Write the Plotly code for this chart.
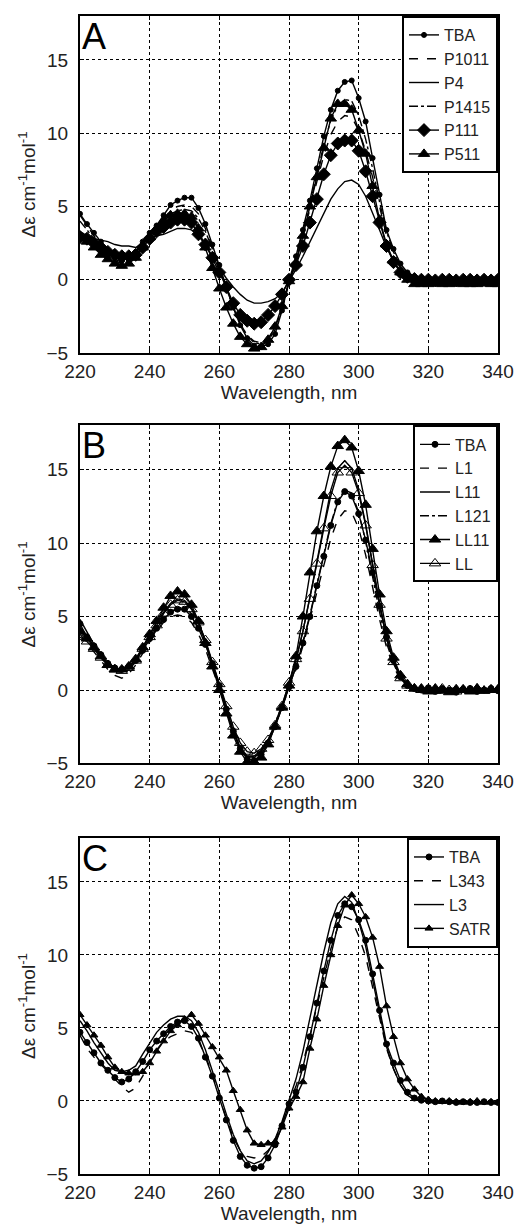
import plotly.graph_objects as go

wavelength = list(range(220, 341, 2))

A_TBA = [4.5, 3.8, 3.2, 2.6, 2.0, 1.5, 1.3, 1.5, 1.9, 2.6, 3.2, 3.7, 4.4, 5.1, 5.4, 5.6, 5.6, 4.9, 3.8, 2.4,
         1.0, -0.5, -1.9, -3.1, -4.0, -4.5, -4.6, -4.4, -3.7, -2.1, -0.1, 1.6, 3.4, 5.4, 7.6, 9.8, 11.6, 12.9, 13.5, 13.6,
         12.4, 10.8, 8.3, 5.8, 3.4, 2.1, 1.1, 0.5, 0.2, 0.1,
         0.0, 0.05, 0.0, 0.05, 0.0, 0.0, 0.05, -0.05, 0.0, 0.0, -0.05]
A_P1011 = [4.4, 3.7, 3.0, 2.4, 1.8, 1.3, 1.1, 1.3, 1.8, 2.5, 3.1, 3.6, 4.2, 4.7, 5.0, 5.1, 5.0, 4.5, 3.5, 2.2,
           0.8, -0.6, -1.9, -3.0, -3.8, -4.2, -4.3, -4.0, -3.3, -1.9, -0.2, 1.3, 3.0, 4.8, 6.7, 8.5, 9.9, 10.8, 11.2, 11.1,
           10.2, 8.8, 7.0, 4.9, 3.0, 1.7, 0.8, 0.3, 0.1, 0.0,
           0.05, 0.0, -0.05, 0.0, 0.05, 0.0, -0.05, 0.0, 0.05, 0.0, 0.0]
A_P4 = [3.3, 3.0, 2.8, 2.7, 2.6, 2.4, 2.3, 2.3, 2.2, 2.5, 2.8, 3.0, 3.1, 3.3, 3.5, 3.5, 3.4, 3.0, 2.4, 1.6,
        0.8, 0.1, -0.5, -1.0, -1.4, -1.6, -1.6, -1.5, -1.3, -0.9, -0.1, 0.7, 1.6, 2.6, 3.6, 4.6, 5.5, 6.2, 6.7, 6.8,
        6.5, 5.7, 4.6, 3.4, 2.2, 1.3, 0.6, 0.25, 0.1, 0.05,
        0.1, 0.05, 0.1, 0.0, 0.05, 0.1, 0.0, 0.05, 0.1, 0.05, 0.0]
A_P1415 = [4.0, 3.4, 2.8, 2.3, 1.8, 1.4, 1.2, 1.4, 1.9, 2.6, 3.1, 3.6, 4.1, 4.5, 4.7, 4.8, 4.7, 4.2, 3.3, 2.1,
           0.8, -0.6, -1.9, -3.0, -3.8, -4.3, -4.4, -4.2, -3.4, -2.0, -0.2, 1.4, 3.2, 5.1, 7.2, 9.2, 10.9, 11.9, 12.3, 12.2,
           11.2, 9.6, 7.6, 5.3, 3.3, 1.9, 0.9, 0.3, 0.1, 0.0,
           -0.05, 0.0, 0.05, -0.05, 0.0, 0.0, 0.05, 0.0, -0.05, 0.0, 0.05]
A_P111 = [2.9, 2.8, 2.5, 2.2, 1.9, 1.7, 1.6, 1.6, 1.7, 2.2, 2.8, 3.3, 3.6, 3.9, 4.1, 4.1, 3.9, 3.1, 2.4, 1.5,
          0.5, -0.5, -1.6, -2.4, -2.8, -3.0, -2.9, -2.4, -1.8, -1.0, 0.0, 1.0, 2.3, 3.9, 5.5, 7.2, 8.5, 9.3, 9.5, 9.5,
          8.8, 7.4, 5.7, 3.9, 2.3, 1.2, 0.5, 0.2, 0.05, 0.0,
          0.0, -0.05, 0.0, 0.0, -0.05, 0.0, 0.0, -0.05, 0.0, -0.05, 0.0]
A_P511 = [3.0, 2.6, 2.2, 1.7, 1.4, 1.1, 0.95, 1.1, 1.5, 2.2, 2.9, 3.5, 4.0, 4.4, 4.5, 4.5, 4.3, 3.5, 2.2, 0.8,
          -0.6, -1.9, -3.0, -3.9, -4.4, -4.7, -4.6, -4.1, -3.2, -1.8, -0.1, 1.1, 3.0, 5.0, 7.0, 9.0, 11.0, 12.0, 12.0, 11.6,
          10.2, 8.6, 6.4, 4.1, 2.4, 1.3, 0.5, 0.0, -0.3, -0.3,
          -0.3, -0.25, -0.3, -0.3, -0.25, -0.3, -0.3, -0.3, -0.25, -0.3, -0.3]

B_TBA = [4.5, 3.6, 3.0, 2.4, 1.8, 1.5, 1.4, 1.6, 2.0, 2.7, 3.5, 4.2, 4.8, 5.3, 5.5, 5.5, 5.0, 4.2, 3.1, 1.8,
         0.3, -1.3, -2.8, -4.0, -4.7, -4.8, -4.4, -3.6, -2.5, -1.2, 0.2, 1.6, 3.2, 5.0, 7.1, 9.1, 11.2, 12.8, 13.5, 13.2,
         12.0, 10.2, 8.0, 5.7, 3.6, 2.0, 0.9, 0.3, 0.1, 0.0,
         0.15, -0.1, 0.1, 0.0, -0.15, 0.05, 0.1, -0.1, 0.0, 0.1, -0.05]
B_L1 = [3.8, 3.2, 2.6, 2.0, 1.4, 1.0, 0.8, 1.1, 1.7, 2.5, 3.3, 4.0, 4.6, 5.0, 5.1, 5.0, 4.6, 3.8, 2.8, 1.5,
        0.1, -1.4, -2.8, -3.9, -4.5, -4.6, -4.2, -3.5, -2.4, -1.2, 0.1, 1.4, 3.0, 4.8, 6.6, 8.5, 10.3, 11.6, 12.2, 12.1,
        11.0, 9.2, 7.0, 4.8, 2.9, 1.6, 0.7, 0.2, 0.0, -0.1,
        -0.15, 0.0, -0.1, -0.2, 0.0, -0.1, -0.05, -0.15, 0.0, -0.1, -0.05]
B_L11 = [4.8, 3.9, 3.1, 2.4, 1.8, 1.5, 1.4, 1.6, 2.1, 2.9, 3.8, 4.6, 5.3, 5.9, 6.2, 6.1, 5.6, 4.6, 3.3, 1.8,
         0.2, -1.4, -2.9, -4.0, -4.6, -4.5, -4.1, -3.4, -2.3, -1.0, 0.4, 2.0, 4.0, 6.3, 8.8, 11.3, 13.6, 15.1, 15.6, 15.1,
         13.6, 11.3, 8.6, 5.9, 3.6, 2.0, 0.9, 0.3, 0.1, 0.05,
         0.1, 0.2, 0.0, 0.1, 0.15, -0.05, 0.1, 0.0, 0.15, 0.05, 0.1]
B_L121 = [4.2, 3.5, 2.8, 2.2, 1.7, 1.3, 1.2, 1.4, 1.9, 2.6, 3.4, 4.1, 4.8, 5.3, 5.6, 5.6, 5.2, 4.4, 3.3, 1.9,
          0.4, -1.2, -2.7, -3.9, -4.5, -4.6, -4.2, -3.4, -2.3, -1.1, 0.2, 1.6, 3.3, 5.1, 7.2, 9.3, 11.3, 12.9, 13.6, 13.4,
          12.1, 10.1, 7.7, 5.3, 3.2, 1.8, 0.8, 0.3, 0.0, -0.1,
          0.0, -0.15, -0.05, 0.1, -0.1, -0.2, 0.0, -0.1, -0.15, 0.0, -0.1]
B_LL11 = [4.0, 3.5, 2.9, 2.3, 1.7, 1.4, 1.4, 1.6, 2.1, 2.9, 3.8, 4.7, 5.6, 6.4, 6.7, 6.5, 5.8, 4.7, 3.2, 1.6,
          0.0, -1.6, -3.1, -4.2, -4.9, -4.9, -4.6, -3.7, -2.5, -1.2, 0.3, 2.3, 5.0, 8.0, 10.8, 13.2, 15.2, 16.6, 17.0, 16.5,
          14.9, 12.6, 9.6, 6.5, 4.0, 2.2, 1.0, 0.4, 0.1, 0.1,
          -0.1, 0.1, -0.05, -0.15, 0.05, 0.0, -0.1, 0.1, -0.05, 0.0, 0.05]
B_LL = [3.6, 3.3, 2.8, 2.2, 1.7, 1.4, 1.3, 1.5, 2.0, 2.8, 3.6, 4.4, 5.2, 5.8, 6.1, 6.0, 5.5, 4.6, 3.4, 1.9,
        0.4, -1.1, -2.5, -3.6, -4.2, -4.3, -4.0, -3.4, -2.4, -1.1, 0.5, 2.1, 4.0, 6.2, 8.6, 11.0, 13.2, 14.8, 15.3, 14.8,
        13.4, 11.2, 8.5, 5.8, 3.5, 1.9, 0.8, 0.3, 0.1, 0.0,
        0.05, -0.05, 0.1, 0.0, -0.1, 0.05, 0.0, 0.1, -0.05, 0.05, 0.0]

C_TBA = [4.7, 4.0, 3.3, 2.6, 2.1, 1.6, 1.3, 1.5, 2.0, 2.7, 3.5, 4.1, 4.6, 5.1, 5.4, 5.5, 5.1, 4.3, 3.0, 1.7,
         0.2, -1.3, -2.7, -3.8, -4.4, -4.6, -4.5, -3.9, -3.0, -1.7, -0.2, 0.6, 2.3, 4.4, 6.7, 8.9, 11.0, 12.7, 13.5, 13.3,
         12.4, 11.0, 8.7, 6.2, 3.9, 2.6, 1.4, 0.6, 0.2, 0.05,
         0.0, -0.05, 0.0, -0.05, -0.1, -0.05, -0.1, -0.1, -0.05, -0.1, -0.1]
C_L343 = [4.5, 3.6, 3.0, 2.5, 2.0, 1.5, 1.0, 0.6, 0.9, 1.7, 2.7, 3.5, 4.1, 4.4, 4.6, 4.8, 4.7, 4.1, 3.1, 1.8,
          0.3, -1.2, -2.5, -3.4, -3.8, -3.9, -3.8, -3.4, -2.7, -1.5, -0.1, 1.0, 2.6, 4.4, 6.5, 8.5, 10.4, 11.9, 12.6, 12.4,
          11.3, 9.9, 7.8, 5.6, 3.6, 2.2, 1.1, 0.4, 0.1, 0.0,
          -0.1, -0.15, -0.1, -0.05, -0.15, -0.1, -0.2, -0.1, -0.15, -0.1, -0.15]
C_L3 = [5.5, 4.8, 4.0, 3.3, 2.6, 2.1, 2.0, 2.1, 2.4, 3.2, 4.0, 4.7, 5.2, 5.6, 5.8, 5.8, 5.5, 4.7, 3.5, 2.1,
        0.6, -0.9, -2.3, -3.4, -4.1, -4.3, -4.1, -3.5, -2.6, -1.4, 0.0, 1.5, 3.4, 5.7, 8.0, 10.2, 12.2, 13.5, 14.0, 13.6,
        12.3, 10.6, 8.3, 5.9, 3.7, 2.2, 1.1, 0.4, 0.1, 0.0,
        0.0, 0.0, -0.05, 0.0, -0.05, 0.0, -0.05, -0.05, 0.0, -0.05, -0.1]
C_SATR = [5.9, 5.2, 4.5, 3.8, 3.0, 2.3, 2.0, 1.9, 1.9, 2.0, 2.6, 3.4, 4.1, 4.8, 5.2, 5.6, 5.9, 5.3, 4.5, 3.7,
          3.0, 2.1, 0.7, -0.6, -2.0, -2.9, -3.0, -2.9, -2.8, -1.8, -0.5, 0.3, 1.3, 3.6, 5.6, 7.9, 10.0, 12.0, 13.4, 14.1,
          13.5, 12.6, 11.2, 9.2, 6.5, 4.4, 2.6, 1.5, 0.8, 0.3,
          0.1, 0.0, -0.05, 0.0, -0.05, -0.1, -0.05, 0.0, -0.1, -0.05, -0.1]

x_ticks = [220, 240, 260, 280, 300, 320, 340]
y_ticks = [-5, 0, 5, 10, 15]

FONT = "Liberation Sans, Arial, sans-serif"

# name, values, dash, marker symbol, marker size
panels = [
    ("A", [("TBA", A_TBA, "solid", "circle", 5),
           ("P1011", A_P1011, "dash", None, 0),
           ("P4", A_P4, "solid", None, 0),
           ("P1415", A_P1415, "9px,3px,3px,3px", None, 0),
           ("P111", A_P111, "solid", "diamond", 10),
           ("P511", A_P511, "solid", "triangle-up", 10)]),
    ("B", [("TBA", B_TBA, "solid", "circle", 6),
           ("L1", B_L1, "dash", None, 0),
           ("L11", B_L11, "solid", None, 0),
           ("L121", B_L121, "9px,3px,3px,3px", None, 0),
           ("LL11", B_LL11, "solid", "triangle-up", 10),
           ("LL", B_LL, "solid", "triangle-up-open", 10)]),
    ("C", [("TBA", C_TBA, "solid", "circle", 6),
           ("L343", C_L343, "dash", None, 0),
           ("L3", C_L3, "solid", None, 0),
           ("SATR", C_SATR, "solid", "triangle-up", 7)]),
]

domains = [[0.709, 1.0], [0.3545, 0.6464], [0.0, 0.2901]]

fig = go.Figure()
legend_names = ["legend", "legend2", "legend3"]
for i, (letter, series) in enumerate(panels):
    ax = "" if i == 0 else str(i + 1)
    for name, vals, dash, sym, msz in series:
        if sym:
            mode = "lines+markers"
            marker = dict(symbol=sym, size=msz, color="black",
                          line=dict(color="black", width=1))
        else:
            mode = "lines"
            marker = None
        fig.add_trace(go.Scatter(
            x=wavelength, y=vals, name=name, mode=mode,
            line=dict(color="black", width=1.4, dash=dash),
            marker=marker, xaxis="x" + ax, yaxis="y" + ax,
            legend=legend_names[i]))
    axis_common = dict(showline=True, linecolor="black", linewidth=2, mirror="ticks",
                       ticks="inside", ticklen=4, tickcolor="black",
                       showgrid=True, gridcolor="black", gridwidth=1.3, griddash="dot",
                       zeroline=False, ticklabeloverflow="allow",
                       tickfont=dict(size=19, color="#222", family=FONT))
    fig.layout["xaxis" + ax] = dict(axis_common, domain=[0, 1], anchor="y" + ax,
                                    range=[220, 340], tickvals=x_ticks,
                                    title=dict(text="Wavelength, nm", standoff=2,
                                               font=dict(size=19, color="#222", family=FONT)))
    fig.layout["yaxis" + ax] = dict(axis_common, domain=domains[i], anchor="x" + ax,
                                    range=[-5, 18], tickvals=y_ticks,
                                    ticklabelstandoff=6,
                                    title=dict(text="Δε cm<sup>-1</sup>mol<sup>-1</sup>", standoff=6,
                                               font=dict(size=19, color="#222", family=FONT)))
    fig.layout[legend_names[i]] = dict(x=1, xanchor="right", xref="paper",
                                       y=domains[i][1], yanchor="top", yref="paper",
                                       bgcolor="white", bordercolor="black", borderwidth=2,
                                       font=dict(size=16, color="#222", family=FONT),
                                       tracegroupgap=0)
    fig.add_annotation(text=letter, xref=("x" + ax) + " domain", yref=("y" + ax) + " domain",
                       x=0.0, y=1.0, xanchor="left", yanchor="top", showarrow=False,
                       yshift=2, font=dict(size=36, color="black", family=FONT))

# page body has an 8px margin: size the figure so the page fits the 528x1232 window
fig.update_layout(width=512, height=1216, margin=dict(l=72, r=13, t=6, b=45),
                  plot_bgcolor="white", paper_bgcolor="white", showlegend=True)

fig.write_html("out.html")
